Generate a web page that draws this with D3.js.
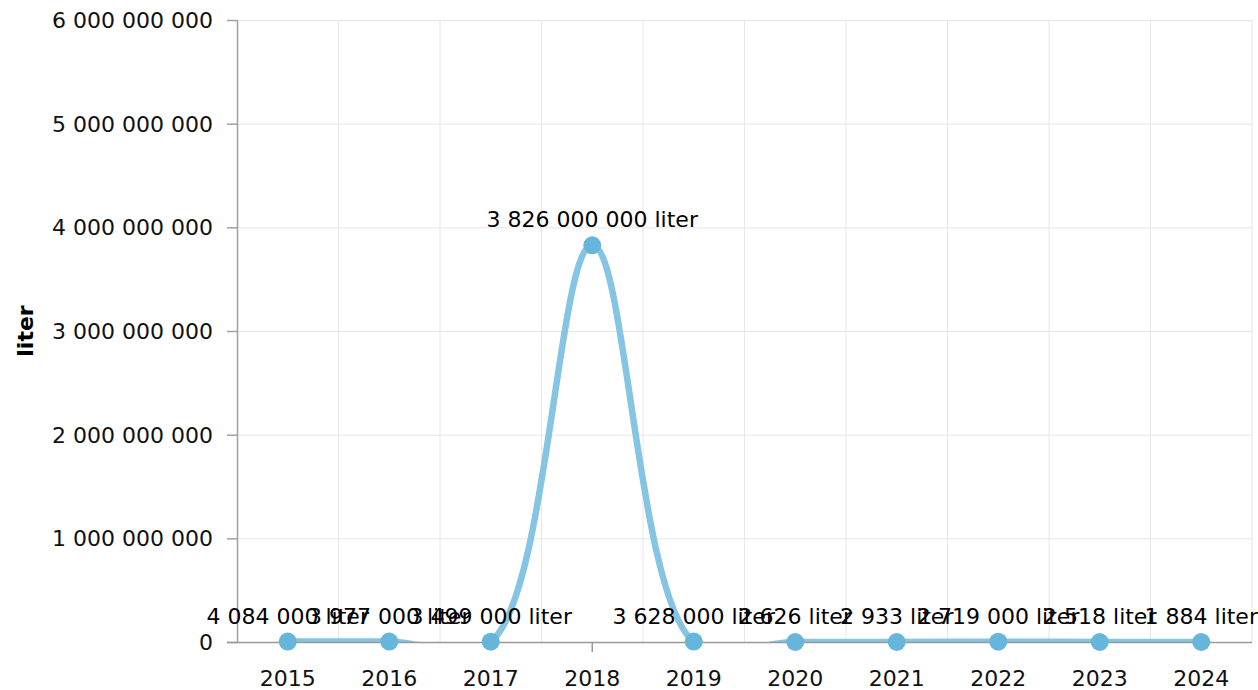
<!DOCTYPE html>
<html>
<head>
<meta charset="utf-8">
<script src="https://cdn.jsdelivr.net/npm/d3@7/dist/d3.min.js"></script>
<style>
  html, body { margin: 0; padding: 0; background: #ffffff; }
  svg { display: block; font-family: "DejaVu Sans", Verdana, sans-serif; }
</style>
</head>
<body>
<svg id="chart" width="1258" height="690"></svg>
<script>
// ---- data ----
const years = ["2015","2016","2017","2018","2019","2020","2021","2022","2023","2024"];
const values = [4084000, 3977000, 3499000, 3826000000, 3628000, 2626, 2933, 2719000, 2518, 1884];
const yTicks = [0, 1000000000, 2000000000, 3000000000, 4000000000, 5000000000, 6000000000];
const unit = "liter";
const axisTitle = "liter";

// ---- layout ----
const W = 1258, H = 690;
const plot = { left: 237, right: 1252, top: 20, bottom: 642 };
const FS = 22;

const svg = d3.select("#chart");
const locale = d3.formatLocale({ decimal: ",", thousands: " ", grouping: [3], currency: ["", ""] });
const fmt = locale.format(",d");

const x = d3.scaleBand().domain(years).range([plot.left, plot.right]).padding(0);
const y = d3.scaleLinear().domain([0, 6000000000]).range([plot.bottom, plot.top]);
const cx = d => x(d) + x.bandwidth() / 2;

// clip
svg.append("defs").append("clipPath").attr("id", "plotclip")
  .append("rect")
  .attr("x", plot.left).attr("y", plot.top - 2)
  .attr("width", plot.right - plot.left + 10)
  .attr("height", plot.bottom - plot.top + 2);

// horizontal grid
svg.append("g").selectAll("line").data(yTicks).join("line")
  .attr("x1", plot.left).attr("x2", plot.right)
  .attr("y1", d => y(d) + 0.5).attr("y2", d => y(d) + 0.5)
  .attr("stroke", "#e6e6e6").attr("stroke-width", 1);

// vertical grid at category boundaries
const boundaries = years.slice(1).map(d => x(d)).concat([plot.right]);
svg.append("g").selectAll("line").data(boundaries).join("line")
  .attr("x1", d => d).attr("x2", d => d)
  .attr("y1", plot.top).attr("y2", plot.bottom)
  .attr("stroke", "#e6e6e6").attr("stroke-width", 1);

// y axis line and ticks
svg.append("line")
  .attr("x1", plot.left + 0.5).attr("x2", plot.left + 0.5)
  .attr("y1", plot.top).attr("y2", plot.bottom)
  .attr("stroke", "#a0a0a0").attr("stroke-width", 1.5);
svg.append("g").selectAll("line").data(yTicks).join("line")
  .attr("x1", plot.left - 10).attr("x2", plot.left)
  .attr("y1", d => y(d) + 0.5).attr("y2", d => y(d) + 0.5)
  .attr("stroke", "#a0a0a0").attr("stroke-width", 1.5);

// y tick labels
svg.append("g").selectAll("text").data(yTicks).join("text")
  .attr("x", 213).attr("y", d => y(d) + 8)
  .attr("text-anchor", "end")
  .attr("font-size", FS).attr("fill", "#111")
  .text(d => fmt(d));

// y axis title
svg.append("text")
  .attr("transform", `translate(33,${(plot.top + plot.bottom) / 2}) rotate(-90)`)
  .attr("text-anchor", "middle")
  .attr("font-size", FS).attr("font-weight", "bold").attr("fill", "#000")
  .text(axisTitle);

// x tick labels
svg.append("g").selectAll("text").data(years).join("text")
  .attr("x", d => cx(d)).attr("y", 686)
  .attr("text-anchor", "middle")
  .attr("font-size", FS).attr("fill", "#111")
  .text(d => d);

// series line
const pts = years.map((d, i) => ({ year: d, value: values[i] }));
const line = d3.line()
  .x(d => cx(d.year))
  .y(d => y(d.value))
  .curve(d3.curveCatmullRom.alpha(0.5));

svg.append("path")
  .datum(pts)
  .attr("clip-path", "url(#plotclip)")
  .attr("d", line)
  .attr("fill", "none")
  .attr("stroke", "#85c5e3")
  .attr("stroke-width", 6.5)
  .attr("stroke-linejoin", "round")
  .attr("stroke-linecap", "round");

// x axis line (drawn over line)
svg.append("line")
  .attr("x1", plot.left - 10).attr("x2", plot.right)
  .attr("y1", plot.bottom + 0.5).attr("y2", plot.bottom + 0.5)
  .attr("stroke", "#999999").attr("stroke-width", 1.5);
// single x tick mark (as in reference)
svg.append("line")
  .attr("x1", cx("2018")).attr("x2", cx("2018"))
  .attr("y1", plot.bottom).attr("y2", plot.bottom + 10)
  .attr("stroke", "#999999").attr("stroke-width", 1.5);

// markers
svg.append("g").selectAll("circle").data(pts).join("circle")
  .attr("cx", d => cx(d.year)).attr("cy", d => y(d.value))
  .attr("r", 9)
  .attr("fill", "#66b6dc");

// data labels
svg.append("g").selectAll("text").data(pts).join("text")
  .attr("x", d => cx(d.year)).attr("y", d => y(d.value) - 18)
  .attr("text-anchor", "middle")
  .attr("font-size", FS).attr("fill", "#000")
  .text(d => fmt(d.value) + " " + unit);
</script>
</body>
</html>
